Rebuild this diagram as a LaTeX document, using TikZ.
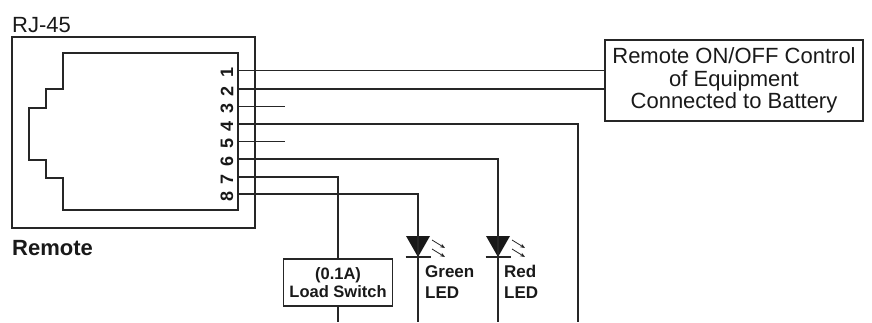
\documentclass[tikz,border=0pt]{standalone}
\usepackage{fontspec}
\setmainfont{Liberation Sans}
\usetikzlibrary{arrows.meta}
\begin{document}
\begin{tikzpicture}[x=1pt,y=-1pt,
  wire/.style={line width=1.2pt, draw=black!85},
  boxline/.style={line width=1.2pt, draw=black!85},
  bigtext/.style={font=\fontsize{22}{22.5}\selectfont, text=black!90},
  pinnum/.style={font=\fontsize{18}{18}\selectfont\bfseries, rotate=90, inner sep=0pt, text=black!90},
  lbl/.style={font=\fontsize{17}{20.5}\selectfont\bfseries, align=left, inner sep=0pt, text=black!90},
  diodesym/.pic={
    \fill[black!90] (-12,0) -- (12,0) -- (0,21) -- cycle;
    \draw[wire] (-12.5,21) -- (12.5,21);
    \draw[line width=0.8pt, black!85, -{Stealth[length=5pt,width=4pt]}] (14,4) -- (27,12);
    \draw[line width=0.8pt, black!85, -{Stealth[length=5pt,width=4pt]}] (14,13) -- (27,21);
  }]
\useasboundingbox (0,0) rectangle (872,322);

% RJ-45 connector
\node[boxline, rectangle, minimum width=243pt, minimum height=191pt, inner sep=0pt] (rj) at (133.5,132.5) {};
\draw[boxline] (238,53) -- (63,53) -- (63,89) -- (46,89) -- (46,108) -- (29,108) -- (29,160)
  -- (46,160) -- (46,178) -- (63,178) -- (63,210) -- (238,210) -- cycle;
\node[bigtext, anchor=base west, inner sep=0pt] (rjlabel) at (12,32) {RJ-45};
\node[bigtext, font=\fontsize{22}{22.5}\selectfont\bfseries, anchor=base west, inner sep=0pt] (remlabel) at (12,255) {Remote};

% pins
\foreach \n/\y in {1/70.5,2/89,3/106.5,4/124,5/141.5,6/159,7/177,8/194}{
  \coordinate (p\n) at (238,\y);
  \node[pinnum] (n\n) at (227,\y+2) {\n};
}

% remote control box
\node[boxline, rectangle, minimum width=258pt, minimum height=81pt, inner sep=0pt,
      bigtext, align=center] (remote) at (734,80.5) {Remote ON/OFF Control\\of Equipment\\Connected to Battery};

% load switch
\node[boxline, rectangle, minimum width=109pt, minimum height=47pt, inner sep=0pt, align=center,
      font=\fontsize{16.5}{18}\selectfont\bfseries, text=black!90] (ls) at (338,282.5) {(0.1A)\\Load Switch};

% LEDs
\pic (gled) at (418,236) {diodesym};
\pic (rled) at (498,236) {diodesym};
\node[lbl, anchor=base west] (gtext) at (425,298) {Green\\LED};
\node[lbl, anchor=base west] (rtext) at (504,298) {Red\\LED};

% free ends
\coordinate (e3) at (285,106.5);
\coordinate (e5) at (285,141.5);
\coordinate (c4) at (578,124);
\coordinate (b4) at (578,322);
\coordinate (c6) at (498,159);
\coordinate (b6) at (498,322);
\coordinate (b7) at (338,322);
\coordinate (c8) at (418,194);
\coordinate (b8) at (418,322);

% wires
\draw[wire] (p1) -- (p1 -| remote.west);
\draw[wire] (p2) -- (p2 -| remote.west);
\draw[wire] (p3) -- (e3);
\draw[wire] (p5) -- (e5);
\draw[wire] (p4) -- (c4) -- (b4);
\draw[wire] (p6) -- (c6) -- (b6);
\draw[wire] (p7) -| (ls.north);
\draw[wire] (ls.south) -- (b7);
\draw[wire] (p8) -- (c8) -- (b8);
\end{tikzpicture}
\end{document}
